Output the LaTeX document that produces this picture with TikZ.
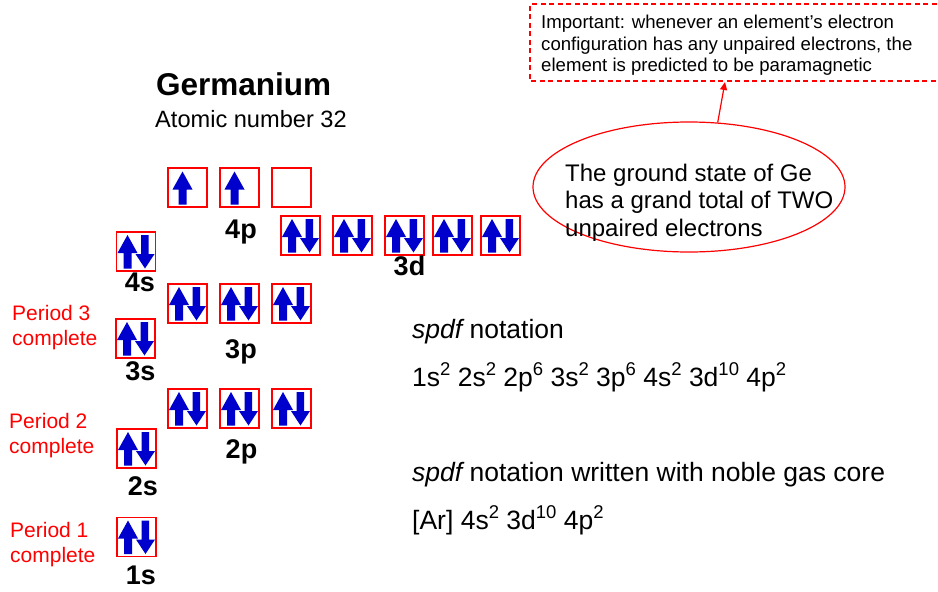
\documentclass[tikz,border=0pt]{standalone}
\usepackage{fontspec}
\setmainfont{Liberation Sans}
\usetikzlibrary{shapes.geometric,arrows.meta}
\definecolor{eblue}{RGB}{0,0,204}
\definecolor{ered}{RGB}{255,0,0}
\newcommand\myup[1]{\raisebox{0.38em}{\fontsize{18.5}{18.5}\selectfont #1}}
\begin{document}
\begin{tikzpicture}[x=1pt,y=-1pt,
  orb/.style={draw=ered, line width=1.3pt, minimum size=39pt, inner sep=0pt},
  lab/.style={font=\fontsize{27}{27}\selectfont\bfseries, anchor=base, inner sep=0pt},
  per/.style={font=\fontsize{21}{25}\selectfont, text=ered, anchor=base west, inner sep=0pt},
  note/.style={font=\fontsize{26.5}{26.5}\selectfont, anchor=base west, inner sep=0pt},
  imptxt/.style={font=\fontsize{18.6}{18.6}\selectfont, anchor=base west, inner sep=0pt},
  elltxt/.style={font=\fontsize{24}{24}\selectfont, anchor=base west, inner sep=0pt},
  elec/.style={fill=eblue},
  updown/.pic={
    \fill[elec] (-12.5,17) -- (-12.5,1.5) -- (-18.5,1.5) -- (-8.5,-16.5) -- (1.5,1.5) -- (-4.5,1.5) -- (-4.5,17) -- cycle;
    \fill[elec] (5,-16.5) -- (5,2.5) -- (-0.5,2.5) -- (9,17) -- (18.5,2.5) -- (12.5,2.5) -- (12.5,-16.5) -- cycle;
  },
  uponly/.pic={
    \fill[elec] (-9,17) -- (-9,2) -- (-15,2) -- (-5,-16) -- (5,2) -- (-1,2) -- (-1,17) -- cycle;
  }]
\useasboundingbox (0,0) rectangle (938,592);

% title
\node[font=\fontsize{31.5}{31.5}\selectfont\bfseries, anchor=base west, inner sep=0pt] (title) at (156,95) {Germanium};
\node[font=\fontsize{23.6}{23.6}\selectfont, anchor=base west, inner sep=0pt] (atnum) at (155,127) {Atomic number 32};

% 4p
\node[orb] (p4a) at (187.5,187.5) {};
\node[orb] (p4b) at (239.5,187.5) {};
\node[orb] (p4c) at (291.5,187.5) {};
\pic at (p4a.center) {uponly};
\pic at (p4b.center) {uponly};
\node[lab] (l4p) at (241,238) {4p};

% 3d
\node[orb] (d3a) at (300.5,235.5) {};
\node[orb] (d3b) at (352.5,235.5) {};
\node[orb] (d3c) at (404.5,235.5) {};
\node[orb] (d3d) at (452.5,235.5) {};
\node[orb] (d3e) at (500.5,235.5) {};
\foreach \n in {d3a,d3b,d3c,d3d,d3e} {\pic at (\n.center) {updown};}
\node[lab] (l3d) at (409.5,275) {3d};

% 4s
\node[orb] (s4) at (136,251.5) {};
\pic at (s4.center) {updown};
\node[lab] (l4s) at (140,291) {4s};

% 3p
\node[orb] (p3a) at (187.5,303.5) {};
\node[orb] (p3b) at (239.5,303.5) {};
\node[orb] (p3c) at (291.5,303.5) {};
\foreach \n in {p3a,p3b,p3c} {\pic at (\n.center) {updown};}
\node[lab] (l3p) at (241,358) {3p};

% 3s
\node[orb] (s3) at (135.5,338.5) {};
\pic at (s3.center) {updown};
\node[lab] (l3s) at (140.5,380) {3s};

% 2p
\node[orb] (p2a) at (187.5,408.5) {};
\node[orb] (p2b) at (239.5,408.5) {};
\node[orb] (p2c) at (291.5,408.5) {};
\foreach \n in {p2a,p2b,p2c} {\pic at (\n.center) {updown};}
\node[lab] (l2p) at (241.5,458) {2p};

% 2s
\node[orb] (s2) at (136.5,448.5) {};
\pic at (s2.center) {updown};
\node[lab] (l2s) at (143,495) {2s};

% 1s
\node[orb] (s1) at (136.5,537) {};
\pic at (s1.center) {updown};
\node[lab] (l1s) at (141,584) {1s};

% period labels
\node[per] (per3a) at (12,320) {Period 3};
\node[per] (per3b) at (12,345) {complete};
\node[per] (per2a) at (9,428) {Period 2};
\node[per] (per2b) at (9,453) {complete};
\node[per] (per1a) at (10,537) {Period 1};
\node[per] (per1b) at (10,562) {complete};

% notation
\node[note] (n1) at (412,338) {{\itshape spdf} notation};
\node[note] (n2) at (412,386) {1s\myup{2} 2s\myup{2} 2p\myup{6} 3s\myup{2} 3p\myup{6} 4s\myup{2} 3d\myup{10} 4p\myup{2}};
\node[note] (n3) at (412,481) {{\itshape spdf} notation written with noble gas core};
\node[note] (n4) at (412,529) {[Ar] 4s\myup{2} 3d\myup{10} 4p\myup{2}};

% important box
\draw[ered, line width=1.1pt, dash pattern=on 5pt off 3.5pt] (945,4) -- (530,4) -- (530,81) -- (945,81);
\node[imptxt] (imp1) at (541,28) {Important: whenever an element’s electron};
\node[imptxt] (imp2) at (541,50) {configuration has any unpaired electrons, the};
\node[imptxt] (imp3) at (541,71.5) {element is predicted to be paramagnetic};
\coordinate (imptip) at (725,82);

% ellipse
\node[ellipse, draw=ered, line width=1.2pt, minimum width=312pt, minimum height=130pt, inner sep=0pt] (ell) at (689,187) {};
\node[elltxt] (e1) at (565,181) {The ground state of Ge};
\node[elltxt] (e2) at (565,208.5) {has a grand total of TWO};
\node[elltxt] (e3) at (565,236) {unpaired electrons};
\draw[ered, line width=1.2pt, -{Triangle[length=8pt,width=7pt]}] (ell.66) -- (imptip);
\end{tikzpicture}
\end{document}
